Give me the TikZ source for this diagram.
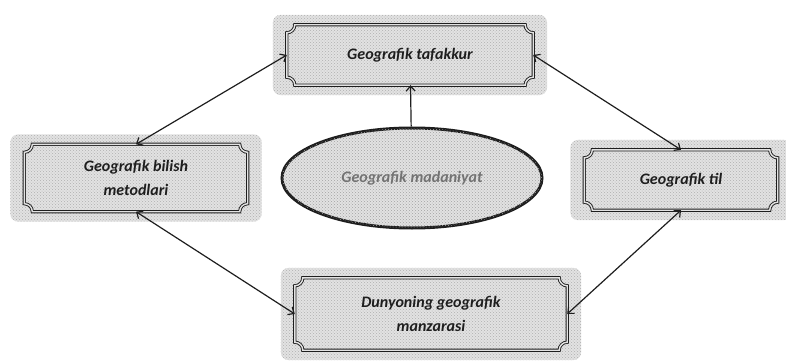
\documentclass[tikz,border=0pt]{standalone}
\usepackage{fontspec}
\setmainfont{Carlito}
\usepackage{tikz}
\usetikzlibrary{positioning,arrows.meta,shapes.geometric,calc,backgrounds,patterns}
\definecolor{ink}{HTML}{1E1E1E}
\definecolor{speck}{HTML}{7A7A7A}
\definecolor{haze}{HTML}{E2E2E2}
\tikzset{
  plaque/.style={rectangle, draw=none, align=center, inner sep=0pt,
                 font=\fontsize{16}{24}\selectfont\bfseries\itshape, text=ink},
  halo/.style={fill=haze, draw=none, rounded corners=8pt,
               postaction={pattern=crosshatch dots, pattern color=speck!60}},
  frame/.style={draw=ink, line width=0.9pt, double=haze, double distance=1.4pt},
  oval/.style={ellipse, draw=ink, line width=3pt, fill=haze,
               postaction={pattern=crosshatch dots, pattern color=speck!70},
               minimum width=260pt, minimum height=100pt,
               font=\fontsize{16}{24}\selectfont\bfseries\itshape, text=black!55},
  arr/.style={-{Straight Barb[length=5pt,width=9pt]}, line width=1.2pt, draw=ink},
  dbl/.style={{Straight Barb[length=5pt,width=9pt]}-{Straight Barb[length=5pt,width=9pt]},
              line width=1.2pt, draw=ink},
}

\begin{document}
\begin{tikzpicture}[x=1pt,y=1pt]
  \useasboundingbox (0,0) rectangle (786,362);

  \node[plaque, minimum width=246pt, minimum height=60pt] (taf) at (410,307) {Geografik tafakkur};
  \node[plaque, minimum width=223pt, minimum height=67pt] (bil) at (136,184) {Geografik bilish\\metodlari};
  \node[plaque, minimum width=193pt, minimum height=60pt] (til) at (681,182) {Geografik til};
  \node[plaque, minimum width=272pt, minimum height=72pt] (man) at (431,48) {Dunyoning geografik\\manzarasi};
  \node[oval] (mad) at (412,184) {Geografik madaniyat};

  % speckled halo behind each plaque
  \begin{scope}[on background layer]
    \foreach \n in {taf,bil,til,man}
      \path[halo] ($(\n.south west)+(-14,-10)$) rectangle ($(\n.north east)+(14,10)$);
  \end{scope}

  % frames with cut-in corners
  \foreach \n in {taf,bil,til,man}
    \draw[frame] ($(\n.south west)+(8,0)$) -- ($(\n.south east)+(-8,0)$)
      arc[start angle=180,end angle=90,radius=8pt] -- ($(\n.north east)+(0,-8)$)
      arc[start angle=270,end angle=180,radius=8pt] -- ($(\n.north west)+(8,0)$)
      arc[start angle=0,end angle=-90,radius=8pt] -- ($(\n.south west)+(0,8)$)
      arc[start angle=90,end angle=0,radius=8pt] -- cycle;

  \draw[arr] (mad) -- (taf);
  \draw[dbl] (taf.west) -- (bil.north);
  \draw[dbl] (taf.east) -- (til.north);
  \draw[dbl] (bil.south) -- (man.west);
  \draw[dbl] (til.south) -- (man.east);
\end{tikzpicture}
\end{document}
